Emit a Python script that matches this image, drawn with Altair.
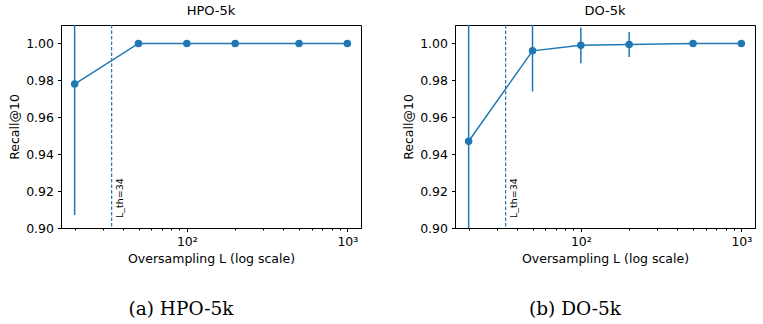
import altair as alt
import numpy as np
import pandas as pd

# Oversampling factors and mean Recall@10 (with error-bar half widths)
L_values = [20, 50, 100, 200, 500, 1000]
hpo_recall = [0.978, 1.000, 1.000, 1.000, 1.000, 1.000]
hpo_err = [0.071, 0.0, 0.0, 0.0, 0.0, 0.0]
do_recall = [0.947, 0.996, 0.999, 0.9994, 1.000, 1.000]
do_err = [0.080, 0.022, 0.0097, 0.0068, 0.0, 0.0]

threshold_L = 34
threshold_label = "L_th=34"

y_ticks = [0.90, 0.92, 0.94, 0.96, 0.98, 1.00]
x_ticks = [20, 30, 40, 50, 60, 70, 80, 90,
           100, 200, 300, 400, 500, 600, 700, 800, 900, 1000]

BLUE = "#1f77b4"
SANS = "DejaVu Sans"
SERIF = "DejaVu Serif"
W, H = 300, 203

# matplotlib-style 5% margins on a log axis
lo_log, hi_log = np.log10(min(L_values)), np.log10(max(L_values))
pad_log = 0.05 * (hi_log - lo_log)
x_domain = [10 ** (lo_log - pad_log), 10 ** (hi_log + pad_log)]


def panel(name, recall, err, caption):
    df = pd.DataFrame({"L": L_values, "recall": recall, "err": err})
    df["lo"] = df["recall"] - df["err"]
    df["hi"] = df["recall"] + df["err"]

    x = alt.X(
        "L:Q",
        scale=alt.Scale(type="log", domain=x_domain, nice=False),
        axis=alt.Axis(
            values=x_ticks,
            labelExpr="datum.value == 100 ? '10²' : datum.value == 1000 ? '10³' : ''",
            tickSize={"condition": {"test": "datum.value == 100 || datum.value == 1000",
                                    "value": 3.5}, "value": 2},
            labelOverlap=False,
            labelFlush=False,
            grid=False,
            title="Oversampling L (log scale)",
        ),
    )
    y = alt.Y(
        "recall:Q",
        scale=alt.Scale(domain=[0.90, 1.01], nice=False, zero=False),
        axis=alt.Axis(values=y_ticks, format=".2f", grid=False,
                      tickSize=3.5, title="Recall@10"),
    )

    base = alt.Chart(df)
    bars = (
        alt.Chart(df[df["err"] > 0])
        .mark_rule(color=BLUE, strokeWidth=1.5, clip=True)
        .encode(x="L:Q", y="lo:Q", y2="hi:Q")
    )
    line = base.mark_line(color=BLUE, strokeWidth=1.5).encode(x=x, y=y)
    dots = base.mark_circle(color=BLUE, size=56, opacity=1).encode(x="L:Q", y="recall:Q")

    th = pd.DataFrame({"L": [threshold_L], "label": [threshold_label]})
    vline = (
        alt.Chart(th)
        .mark_rule(color=BLUE, strokeWidth=1.2, strokeDash=[3.5, 2])
        .encode(x="L:Q")
    )
    vtext = (
        alt.Chart(th)
        .mark_text(angle=270, align="left", baseline="top", dy=3,
                   font=SANS, fontSize=9.5, color="black")
        .encode(x="L:Q", y=alt.value(H - 10), text="label:N")
    )
    cap = (
        alt.Chart(pd.DataFrame({"t": [caption]}))
        .mark_text(font=SERIF, fontSize=18.5, color="black", align="center",
                   baseline="alphabetic")
        .encode(x=alt.value(120), y=alt.value(H + 87), text="t:N")
    )
    return alt.layer(line, bars, dots, vline, vtext, cap).properties(
        width=W, height=H,
        title=alt.TitleParams(name, font=SANS, fontSize=13, fontWeight="normal",
                              color="black", offset=6),
    )


chart = (
    alt.hconcat(
        panel("HPO-5k", hpo_recall, hpo_err, "(a) HPO-5k"),
        panel("DO-5k", do_recall, do_err, "(b) DO-5k"),
        spacing=40,
    )
    .properties(padding={"left": 8, "top": 4, "right": 5, "bottom": 5},
                background="white")
    .configure_view(stroke="black", strokeWidth=1)
    .configure_axis(
        domainColor="black", tickColor="black", labelColor="black",
        titleColor="black", labelFont=SANS, titleFont=SANS,
        labelFontSize=12.5, titleFontSize=12.5, titleFontWeight="normal",
        labelPadding=4, titlePadding=4,
    )
)

chart.save("out.html", embed_options={"renderer": "svg", "actions": False})
